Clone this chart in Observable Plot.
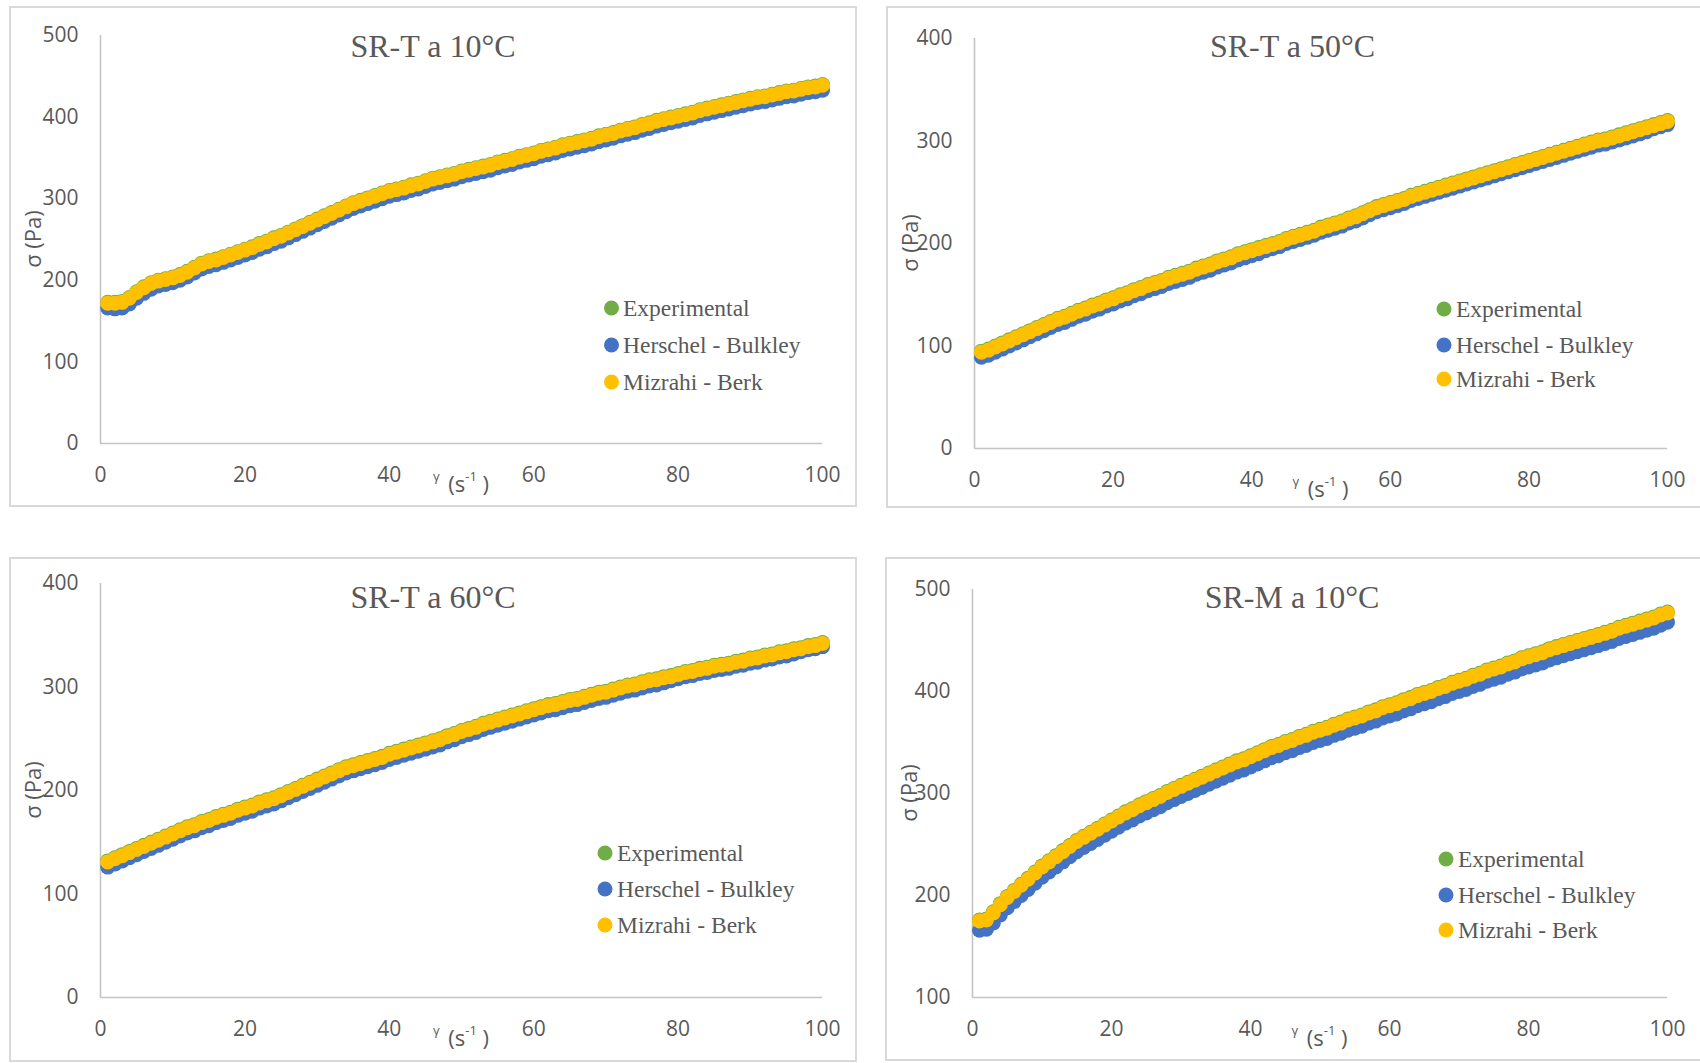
<!DOCTYPE html>
<html>
<head>
<meta charset="utf-8">
<script src="https://cdn.jsdelivr.net/npm/d3@7"></script>
<script src="https://cdn.jsdelivr.net/npm/@observablehq/plot@0.6"></script>
<style>
  body { margin: 0; background: #fff; }
  #page { position: relative; width: 1700px; height: 1063px; background: #fff; overflow: hidden; }
  .frame { position: absolute; box-sizing: border-box; border: 2px solid #d9d9d9; }
  .panel { position: absolute; }
  .panel svg { overflow: visible; }
</style>
</head>
<body>
<div id="page"></div>
<script>
// ---------------- DATA ----------------
const SERIES = ["Experimental", "Herschel - Bulkley", "Mizrahi - Berk"];
const COLORS = ["#70AD47", "#4472C4", "#FFC000"];
const X_TICKS = [0, 20, 40, 60, 80, 100];

// shear rate (s^-1)
const X_RATE = [1,2,3,4,5,6,7,8,9,10,11,12,13,14,15,16,17,18,19,20,
  21,22,23,24,25,26,27,28,29,30,31,32,33,34,35,36,37,38,39,40,
  41,42,43,44,45,46,47,48,49,50,51,52,53,54,55,56,57,58,59,60,
  61,62,63,64,65,66,67,68,69,70,71,72,73,74,75,76,77,78,79,80,
  81,82,83,84,85,86,87,88,89,90,91,92,93,94,95,96,97,98,99,100];

// SR-T a 10°C
const TITLE_T10 = "SR-T a 10°C";
const Y_TICKS_T10 = [0, 100, 200, 300, 400, 500];
const EXP_T10 = [173,173,174,179,186,192,197,200,202,204, 207,211,216,221,224,226,229,232,235,238,
  241,245,248,252,255,259,263,267,271,275, 279,283,287,291,295,298,301,304,307,310,
  312,314,317,319,322,325,327,329,331,334, 336,338,340,342,345,347,349,352,354,356,
  359,361,363,366,368,370,372,374,377,379, 381,384,386,388,391,393,396,398,400,402,
  404,406,409,411,413,415,417,419,421,423, 425,426,428,430,432,433,435,437,438,440];
const HB_T10 = [166,165,166,171,178,184,189,193,195,197, 200,204,209,214,217,219,222,225,228,231,
  234,238,241,245,248,252,256,260,264,268, 272,276,280,284,288,291,294,297,300,303,
  305,307,310,312,315,318,320,322,324,327, 329,331,333,335,338,340,342,345,347,349,
  352,354,356,359,361,363,365,367,370,372, 374,377,379,381,384,386,389,391,393,395,
  397,399,402,404,406,408,410,412,414,416, 418,419,421,423,425,426,428,430,431,433];
const MB_T10 = [172,172,173,178,185,191,196,199,201,203, 206,210,215,220,223,225,228,231,234,237,
  240,244,247,251,254,258,262,266,270,274, 278,282,286,290,294,297,300,303,306,309,
  311,313,316,318,321,324,326,328,330,333, 335,337,339,341,344,346,348,351,353,355,
  358,360,362,365,367,369,371,373,376,378, 380,383,385,387,390,392,395,397,399,401,
  403,405,408,410,412,414,416,418,420,422, 424,425,427,429,431,432,434,436,437,439];

// SR-T a 50°C
const TITLE_T50 = "SR-T a 50°C";
const Y_TICKS_T50 = [0, 100, 200, 300, 400];
const EXP_T50 = [95,97,100,103,106,109,112,115,118,121, 124,127,129,132,135,137,140,142,145,147,
  150,152,155,157,160,162,164,167,169,171, 173,176,178,180,183,185,187,190,192,194,
  196,198,200,202,205,207,209,211,213,216, 218,220,222,225,227,230,233,236,238,240,
  242,244,247,249,251,253,255,257,259,261, 263,265,267,269,271,273,275,277,279,281,
  283,285,287,289,291,293,295,297,299,301, 302,304,306,308,310,312,314,316,318,320];
const HB_T50 = [89,91,94,97,100,103,106,109,112,115, 118,121,123,126,129,131,134,136,139,141,
  144,146,149,151,154,156,158,161,163,165, 167,170,172,174,177,179,181,184,186,188,
  190,193,195,197,200,202,204,206,208,211, 213,215,217,220,222,225,228,231,233,235,
  237,239,242,244,246,248,250,252,254,256, 258,260,262,264,266,268,270,272,274,276,
  278,280,282,284,286,288,290,292,294,296, 297,299,301,303,305,307,309,312,314,316];
const MB_T50 = [94,96,99,102,105,108,111,114,117,120, 123,126,128,131,134,136,139,141,144,146,
  149,151,154,156,159,161,163,166,168,170, 172,175,177,179,182,184,186,189,191,193,
  195,197,199,201,204,206,208,210,212,215, 217,219,221,224,226,229,232,235,237,239,
  241,243,246,248,250,252,254,256,258,260, 262,264,266,268,270,272,274,276,278,280,
  282,284,286,288,290,292,294,296,298,300, 301,303,305,307,309,311,313,315,317,319];

// SR-T a 60°C
const TITLE_T60 = "SR-T a 60°C";
const Y_TICKS_T60 = [0, 100, 200, 300, 400];
const EXP_T60 = [132,135,138,141,144,147,150,153,156,159, 162,165,167,170,172,175,177,179,182,184,
  186,189,191,193,196,199,202,205,208,211, 214,217,220,223,225,227,229,231,233,236,
  238,240,242,244,246,248,250,253,255,258, 260,262,265,267,269,271,273,275,277,279,
  281,283,284,286,288,289,291,293,295,296, 298,300,302,303,305,307,308,310,311,313,
  315,316,318,319,321,322,323,325,326,328, 329,331,332,334,335,337,338,340,341,343];
const HB_T60 = [126,129,132,135,138,141,144,147,150,153, 156,159,161,164,166,169,171,173,176,178,
  180,183,185,187,190,193,196,199,202,205, 208,211,214,217,219,221,223,225,227,230,
  232,234,236,238,240,242,244,247,249,252, 254,256,259,261,263,265,267,269,271,273,
  275,277,278,280,282,283,285,287,289,290, 292,294,296,297,299,301,302,304,306,308,
  310,311,313,314,316,317,318,320,321,323, 324,326,327,329,330,332,334,336,337,339];
const MB_T60 = [131,134,137,140,143,146,149,152,155,158, 161,164,166,169,171,174,176,178,181,183,
  185,188,190,192,195,198,201,204,207,210, 213,216,219,222,224,226,228,230,232,235,
  237,239,241,243,245,247,249,252,254,257, 259,261,264,266,268,270,272,274,276,278,
  280,282,283,285,287,288,290,292,294,295, 297,299,301,302,304,306,307,309,310,312,
  314,315,317,318,320,321,322,324,325,327, 328,330,331,333,334,336,337,339,340,342];

// SR-M a 10°C
const TITLE_M10 = "SR-M a 10°C";
const Y_TICKS_M10 = [100, 200, 300, 400, 500];
const EXP_M10 = [176,177,184,192,199,205,211,217,223,229, 234,239,244,249,254,258,262,266,270,274,
  278,282,285,289,292,295,298,302,305,308, 311,314,317,320,323,326,329,332,334,337,
  340,343,346,348,351,353,356,358,361,363, 365,368,370,373,375,377,380,382,385,387,
  389,392,394,397,399,401,404,406,409,411, 413,416,418,421,423,425,428,430,433,435,
  437,439,442,444,446,448,450,452,454,456, 458,460,463,465,467,469,471,473,476,478];
const HB_M10 = [166,167,173,181,188,194,200,206,212,218, 223,228,233,238,243,247,251,255,259,263,
  267,271,274,278,281,284,287,291,294,297, 300,303,306,309,312,315,318,321,323,326,
  329,332,335,337,340,342,345,347,350,352, 354,357,359,362,364,366,369,371,374,376,
  378,381,383,386,388,390,393,395,398,400, 402,405,407,410,412,414,417,419,422,424,
  426,428,431,433,435,437,439,441,443,445, 447,449,452,454,456,458,460,462,465,468];
const MB_M10 = [175,176,183,191,198,204,210,216,222,228, 233,238,243,248,253,257,261,265,269,273,
  277,281,284,288,291,294,297,301,304,307, 310,313,316,319,322,325,328,331,333,336,
  339,342,345,347,350,352,355,357,360,362, 364,367,369,372,374,376,379,381,384,386,
  388,391,393,396,398,400,403,405,408,410, 412,415,417,420,422,424,427,429,432,434,
  436,438,441,443,445,447,449,451,453,455, 457,459,462,464,466,468,470,472,475,477];

// ---------------- LAYOUT ----------------
const PANELS = [
  {title: TITLE_T10, yTicks: Y_TICKS_T10, yDomain: [0, 500], series: [EXP_T10, HB_T10, MB_T10],
   frame: {left: 9, top: 6, width: 848, height: 501},
   m: {l: 91, r: 35, t: 29, b: 64}, legend: {dx: 602.5, tx: 614, rows: [302, 339, 376]}},
  {title: TITLE_T50, yTicks: Y_TICKS_T50, yDomain: [0, 400], series: [EXP_T50, HB_T50, MB_T50],
   frame: {left: 886, top: 6, width: 813, height: 502}, fw: 820,
   m: {l: 88, r: 32, t: 32, b: 60}, legend: {dx: 558, tx: 570, rows: [303, 339, 373]}},
  {title: TITLE_T60, yTicks: Y_TICKS_T60, yDomain: [0, 400], series: [EXP_T60, HB_T60, MB_T60],
   frame: {left: 9, top: 557, width: 848, height: 505},
   m: {l: 91, r: 35, t: 26, b: 65}, legend: {dx: 596, tx: 608, rows: [296, 332, 368]}},
  {title: TITLE_M10, yTicks: Y_TICKS_M10, yDomain: [100, 500], series: [EXP_M10, HB_M10, MB_M10],
   frame: {left: 885, top: 557, width: 814, height: 504}, fw: 820,
   m: {l: 87, r: 32, t: 32, b: 64}, legend: {dx: 561, tx: 573, rows: [302, 338, 373]}}
];

const page = document.getElementById("page");
const GRAY = "#595959";
const AXIS = "#c4c4c4";

for (const p of PANELS) {
  const f = p.frame;
  const frame = document.createElement("div");
  frame.className = "frame";
  Object.assign(frame.style, {left: f.left + "px", top: f.top + "px",
    width: (p.fw || f.width) + "px", height: f.height + "px"});
  page.appendChild(frame);

  const tables = p.series.map((vals, k) => X_RATE.map((x, i) => ({x, y: vals[i], s: SERIES[k]})));

  const svgEl = Plot.plot({
    width: f.width, height: f.height,
    marginLeft: p.m.l, marginRight: p.m.r, marginTop: p.m.t, marginBottom: p.m.b,
    style: {fontFamily: "'Open Sans', sans-serif", fontSize: "21px", color: GRAY, background: "transparent", overflow: "visible"},
    x: {domain: [0, 100], ticks: X_TICKS, tickSize: 0, tickPadding: 24, label: null},
    y: {domain: p.yDomain, ticks: p.yTicks, tickSize: 0, tickPadding: 22, label: null},
    marks: [
      Plot.ruleX([0], {stroke: AXIS, strokeWidth: 1.6}),
      Plot.ruleY([p.yDomain[0]], {stroke: AXIS, strokeWidth: 1.6}),
      ...tables.map((t, k) => Plot.dot(t, {x: "x", y: "y", r: 7.5, fill: COLORS[k]}))
    ]
  });

  const svg = d3.select(svgEl);
  const plotW = f.width - p.m.l - p.m.r;
  const plotH = f.height - p.m.t - p.m.b;
  const cx = p.m.l + plotW / 2;
  const cy = p.m.t + plotH / 2;
  const axisY = f.height - p.m.b;

  // Title
  svg.append("text").attr("x", f.width / 2).attr("y", 51.3)
    .attr("text-anchor", "middle").attr("font-family", "'Liberation Serif', 'Times New Roman', serif")
    .attr("font-size", 32).attr("fill", GRAY).text(p.title);

  // Y axis title
  svg.append("text").attr("transform", `translate(22.6,${cy}) rotate(-90)`)
    .attr("text-anchor", "middle").attr("dominant-baseline", "central")
    .attr("font-family", "'Open Sans', sans-serif").attr("font-size", 22).attr("fill", GRAY)
    .text("σ (Pa)");

  // X axis title
  const xl = svg.append("text").attr("x", cx).attr("y", axisY + 49)
    .attr("text-anchor", "middle").attr("font-family", "'Open Sans', sans-serif")
    .attr("font-size", 22).attr("fill", GRAY);
  xl.append("tspan").attr("font-size", 13).attr("dy", -11).text("γ");
  xl.append("tspan").attr("dy", 11).attr("dx", 3).text(" (s");
  xl.append("tspan").attr("font-size", 13).attr("dy", -11).text("-1");
  xl.append("tspan").attr("dy", 11).text(" )");

  // Legend
  const lg = svg.append("g").attr("text-anchor", "start");
  SERIES.forEach((name, k) => {
    const ry = p.legend.rows[k];
    lg.append("circle").attr("cx", p.legend.dx).attr("cy", ry).attr("r", 7.5).attr("fill", COLORS[k]);
    lg.append("text").attr("x", p.legend.tx).attr("y", ry + 7.8).attr("text-anchor", "start")
      .attr("font-family", "'Liberation Serif', 'Times New Roman', serif").attr("font-size", 23.5)
      .attr("fill", GRAY).text(name);
  });

  const holder = document.createElement("div");
  holder.className = "panel";
  Object.assign(holder.style, {left: f.left + "px", top: f.top + "px", width: f.width + "px", height: f.height + "px"});
  holder.appendChild(svgEl);
  page.appendChild(holder);
}
</script>
</body>
</html>
